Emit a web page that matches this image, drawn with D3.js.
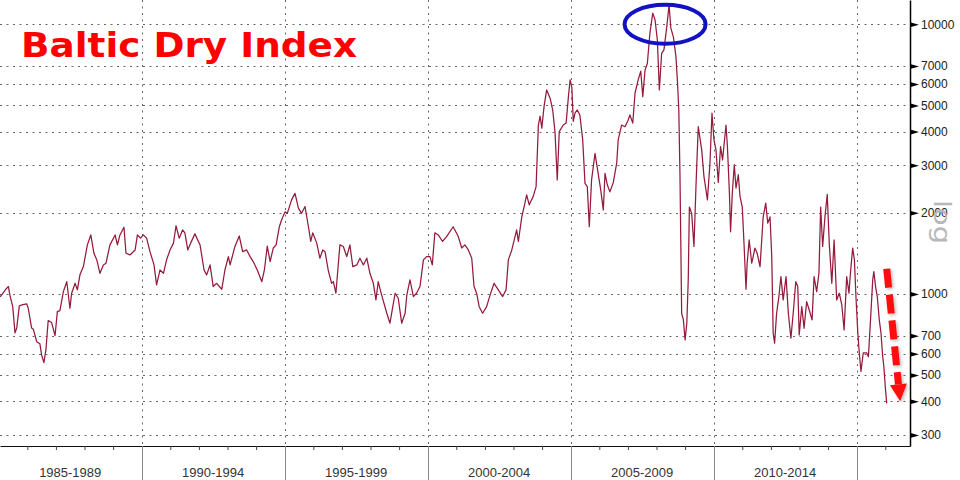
<!DOCTYPE html>
<html><head><meta charset="utf-8">
<script src="https://cdn.jsdelivr.net/npm/d3@7"></script>
<style>body{margin:0;background:#fff} svg{display:block}</style>
</head><body><svg id="c" width="960" height="480"></svg>
<script>
// ---- data ----
const title = "Baltic Dry Index";
const axisName = "log";
const years = [
1985.05,1985.28,1985.34,1985.39,1985.49,1985.57,1985.63,1985.72,1985.80,1985.98,
1986.03,1986.15,1986.21,1986.33,1986.44,1986.50,1986.58,1986.65,1986.73,1986.85,1986.97,
1987.05,1987.14,1987.26,1987.38,1987.49,1987.55,1987.67,1987.75,1987.84,1987.96,
1988.10,1988.22,1988.33,1988.43,1988.54,1988.66,1988.75,1988.89,
1989.07,1989.15,1989.24,1989.38,1989.45,1989.59,1989.77,1989.85,1989.96,
1990.06,1990.17,1990.29,1990.43,1990.52,1990.64,1990.76,1990.87,1990.99,
1991.11,1991.20,1991.31,1991.43,1991.51,1991.61,1991.71,1991.86,
1992.04,1992.18,1992.27,1992.39,1992.50,1992.62,1992.80,1992.91,
1993.03,1993.09,1993.26,1993.41,1993.53,1993.67,1993.79,1993.90,
1994.04,1994.20,1994.29,1994.39,1994.49,1994.60,1994.70,1994.81,1994.89,
1995.01,1995.09,1995.24,1995.36,1995.48,1995.59,1995.71,1995.83,1995.91,1995.98,
1996.12,1996.23,1996.33,1996.41,1996.52,1996.64,1996.70,1996.79,1996.93,
1997.05,1997.17,1997.28,1997.38,1997.52,1997.63,1997.75,1997.87,1997.98,
1998.10,1998.19,1998.27,1998.39,1998.57,1998.68,1998.86,1998.97,
1999.09,1999.21,1999.27,1999.38,1999.50,1999.61,1999.73,1999.85,1999.96,
2000.08,2000.16,2000.25,2000.37,2000.52,2000.66,2000.89,
2001.07,2001.19,2001.30,2001.42,2001.54,2001.62,2001.71,2001.80,2001.92,
2002.06,2002.18,2002.32,2002.47,2002.62,2002.74,2002.82,2002.94,
2003.11,2003.17,2003.29,2003.40,2003.46,2003.55,2003.69,2003.79,2003.87,2003.93,2003.99,
2004.07,2004.16,2004.28,2004.37,2004.45,2004.53,2004.60,2004.74,2004.84,2004.92,2004.98,
2005.04,2005.09,2005.15,2005.23,2005.32,2005.42,2005.50,2005.58,2005.65,2005.73,2005.85,2005.96,
2006.05,2006.14,2006.20,2006.28,2006.37,2006.49,2006.61,2006.66,2006.78,2006.90,
2007.01,2007.07,2007.17,2007.25,2007.36,2007.45,2007.52,2007.60,2007.68,2007.77,2007.87,2007.95,
2008.03,2008.10,2008.18,2008.26,2008.36,2008.44,2008.50,2008.59,2008.68,2008.73,2008.78,2008.82,2008.88,2008.94,
2009.00,2009.06,2009.11,2009.15,2009.23,2009.31,2009.38,2009.46,2009.52,2009.58,2009.66,2009.73,2009.78,2009.87,2009.94,
2010.01,2010.08,2010.16,2010.24,2010.31,2010.43,2010.48,2010.55,2010.59,2010.65,2010.72,2010.78,2010.86,2010.92,
2011.00,2011.07,2011.13,2011.17,2011.24,2011.33,2011.38,2011.44,2011.52,2011.62,2011.68,2011.73,2011.82,2011.89,2011.97,
2012.03,2012.08,2012.13,2012.20,2012.28,2012.35,2012.43,2012.53,2012.61,2012.70,2012.78,2012.87,2012.94,2012.99,
2013.08,2013.16,2013.25,2013.34,2013.44,2013.51,2013.60,2013.68,2013.74,2013.81,2013.89,2013.97,
2014.04,2014.13,2014.21,2014.30,2014.39,2014.48,2014.56,2014.65,2014.73,2014.79,2014.86,2014.92,2014.98,
2015.04,2015.09,2015.15,2015.23,2015.35,2015.41,2015.49,2015.56,2015.60,2015.66,2015.72,2015.79,2015.85,2015.91,2015.95,
2016.00,2016.05
];
const bdi = [
975,1050,1065,990,897,717,748,903,910,918,
887,748,740,665,653,594,556,620,797,783,700,
860,867,1020,1110,885,1006,1095,1035,1177,1263,
1520,1655,1415,1337,1193,1281,1299,1520,
1655,1520,1655,1767,1415,1395,1456,1655,1610,
1655,1610,1435,1281,1080,1227,1193,1337,1456,
1543,1790,1610,1727,1685,1456,1543,1670,
1520,1227,1177,1281,1065,1095,1041,1227,
1375,1281,1500,1640,1435,1456,1375,1318,
1227,1110,1227,1505,1318,1480,1520,1770,1881,
2015,1990,2232,2360,2080,1990,2110,1775,1565,1685,
1543,1357,1456,1435,1227,1095,1110,1006,1520,
1500,1375,1520,1263,1281,1357,1281,1357,1193,
1095,950,1110,990,848,779,1006,964,
779,848,990,1127,978,1006,1065,1337,1375,
1375,1281,1685,1655,1565,1632,1775,
1632,1480,1520,1456,1357,1065,1006,897,848,
897,990,1095,1035,978,1035,1337,1456,
1727,1565,1930,2170,2330,2140,2300,2500,4230,4560,4120,
4970,5708,5320,4812,4000,2647,4000,4230,4300,5390,6217,
5850,4360,4680,4812,4610,3724,2570,2500,1775,2647,3323,2800,
2430,2049,2800,2540,2390,2590,3060,3724,4230,4170,
4418,4610,4300,5560,6217,6700,5390,6770,7150,9280,11000,10370,
8745,5708,7800,8030,9800,11800,9700,8980,7580,6217,4812,2800,848,801,
675,779,1127,2100,1990,1500,2500,4170,3780,3420,2720,2430,2232,3060,4680,
3724,3420,2590,3520,3140,4230,3520,2360,1700,2360,3015,2470,2767,2300,
2100,1456,1041,1300,1586,1300,1375,1480,1415,1263,1586,1930,2170,1830,1930,
1375,715,657,848,978,1160,950,1160,848,686,848,1110,1065,705,
897,746,937,872,801,1160,1020,1193,2100,1500,1930,2340,
1543,1095,1586,950,1006,910,735,1160,1006,1227,1480,1337,950,
715,605,516,605,605,585,824,1127,1210,1065,978,801,715,585,538,
452,393
];
const yTicks = [300,400,500,600,700,1000,2000,3000,4000,5000,6000,7000,10000];
const periodLabels = ["1985-1989","1990-1994","1995-1999","2000-2004","2005-2009","2010-2014"];
const periodStarts = [1985,1990,1995,2000,2005,2010,2015];
const circleNote = {year: 2008.30, value: 10000};
const arrowNote = {fromYear: 2016.05, fromValue: 1240, toYear: 2016.52, toValue: 400};

// ---- layout ----
const svg = d3.select("#c");
const plotR = 910, plotB = 446;
const x = d3.scaleLinear().domain([1985.045, 2016.864]).range([0, plotR]);
const y = d3.scaleLog().domain([273, 12300]).range([plotB, 0]);

const defs = svg.append("defs");
const f = defs.append("filter").attr("id","sh").attr("x","-100%").attr("y","-20%").attr("width","300%").attr("height","140%");
f.append("feDropShadow").attr("dx",1.5).attr("dy",1.5).attr("stdDeviation",1.5)
  .attr("flood-color","#000").attr("flood-opacity",0.28);

// grid
const grid = svg.append("g").attr("stroke","#666").attr("stroke-width",1).attr("stroke-dasharray","2,4.5");
grid.selectAll("line.h").data(yTicks).join("line").attr("class","h")
  .attr("x1",0).attr("x2",plotR-4)
  .attr("y1",d=>Math.round(y(d))+0.5).attr("y2",d=>Math.round(y(d))+0.5);
grid.selectAll("line.v").data(periodStarts.slice(1)).join("line").attr("class","v")
  .attr("x1",d=>Math.round(x(d))+0.5).attr("x2",d=>Math.round(x(d))+0.5)
  .attr("y1",0).attr("y2",plotB);

// title
svg.append("text").attr("x",21).attr("y",57).text(title)
  .attr("font-family","DejaVu Sans, Verdana, sans-serif").attr("font-weight","bold")
  .attr("font-size",34).attr("fill","#ff0000")
  .attr("textLength",336).attr("lengthAdjust","spacingAndGlyphs");

// series line
const line = d3.line().x(i=>x(years[i])).y(i=>y(bdi[i]));
svg.append("path").attr("d", line(d3.range(years.length)))
  .attr("fill","none").attr("stroke","#961a3c").attr("stroke-width",1.25)
  .attr("stroke-linejoin","round");

// bottom axis
const ax = d3.axisBottom(x).tickValues(d3.range(1986,2017).filter(v=>v%5!==0))
  .tickFormat("").tickSize(4).tickSizeOuter(0);
const gx = svg.append("g").attr("transform",`translate(0,${plotB})`).call(ax);
gx.select(".domain").attr("stroke","#111").attr("stroke-width",1.2);
gx.selectAll(".tick line").attr("stroke","#444");

svg.append("g").selectAll("line").data(periodStarts).join("line")
  .attr("x1",d=>Math.round(x(d))+0.5).attr("x2",d=>Math.round(x(d))+0.5)
  .attr("y1",plotB).attr("y2",480).attr("stroke","#8a8a8a").attr("stroke-width",1);

svg.append("g").selectAll("text").data(periodLabels).join("text")
  .attr("x",(d,i)=>x((periodStarts[i]+periodStarts[i+1])/2)).attr("y",477)
  .attr("text-anchor","middle").attr("font-family","Liberation Sans, Arial, sans-serif")
  .attr("font-size",13).attr("fill","#333").text(d=>d);

// right axis
const ay = d3.axisRight(y).tickValues(yTicks).tickFormat(d3.format("d"))
  .tickSize(0).tickPadding(11).tickSizeOuter(0);
const gy = svg.append("g").attr("transform",`translate(${plotR},0)`).call(ay)
  .attr("font-family","Liberation Sans, Arial, sans-serif").attr("font-size",12);
gy.select(".domain").attr("stroke","#000").attr("stroke-width",1.5);
gy.selectAll(".tick text").attr("fill","#222");
gy.selectAll(".tick").append("path").attr("d","M0,-2.6L9,0L0,2.6Z").attr("fill","#000");

// axis name
svg.append("text").attr("transform","translate(934,222) rotate(90)")
  .attr("text-anchor","middle").attr("font-family","DejaVu Sans, sans-serif")
  .attr("font-size",23).attr("fill","#b8b8b8")
  .attr("textLength",44).attr("lengthAdjust","spacingAndGlyphs").text(axisName);

// blue ellipse annotation
svg.append("ellipse").attr("cx",x(circleNote.year)).attr("cy",y(circleNote.value))
  .attr("rx",40.5).attr("ry",19.5).attr("fill","none").attr("stroke","#1212c4").attr("stroke-width",4);

// red dashed arrow annotation
const a = svg.append("g").attr("filter","url(#sh)");
const x0 = x(arrowNote.fromYear), y0 = y(arrowNote.fromValue);
const x1 = x(arrowNote.toYear), y1 = y(arrowNote.toValue);
const ang = Math.atan2(y1-y0, x1-x0);
const headL = 17, headW = 8.5;
const bx = x1 - headL*Math.cos(ang), by = y1 - headL*Math.sin(ang);
a.append("line").attr("x1",x0).attr("y1",y0).attr("x2",bx).attr("y2",by)
  .attr("stroke","#ff1010").attr("stroke-width",7).attr("stroke-dasharray","19,7");
const px = -Math.sin(ang), py = Math.cos(ang);
a.append("path").attr("d",`M${bx+px*headW},${by+py*headW}L${x1},${y1}L${bx-px*headW},${by-py*headW}Z`)
  .attr("fill","#ff1010");
</script>
</body></html>
